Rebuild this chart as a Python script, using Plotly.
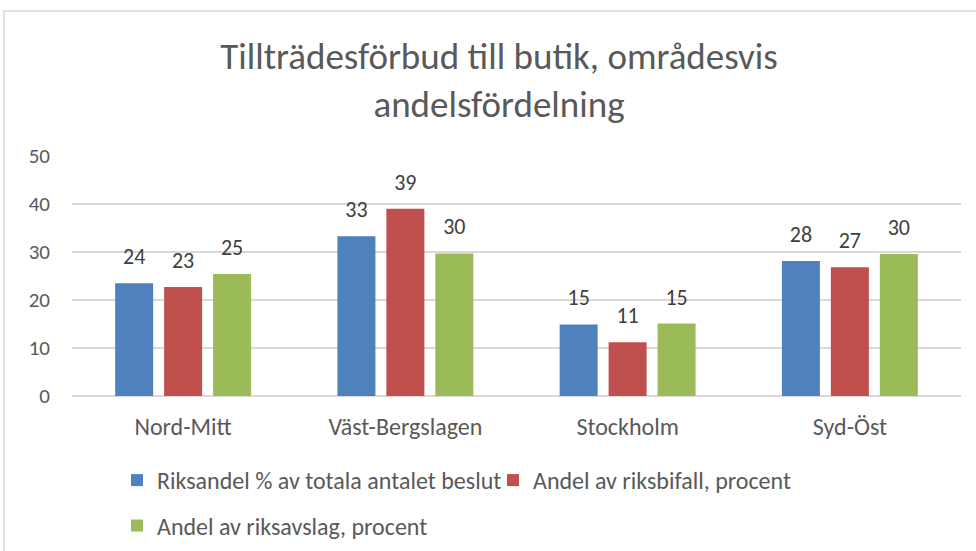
import plotly.graph_objects as go

categories = ["Nord-Mitt", "Väst-Bergslagen", "Stockholm", "Syd-Öst"]
series_names = [
    "Riksandel % av totala antalet beslut",
    "Andel av riksbifall, procent",
    "Andel av riksavslag, procent",
]
riksandel = [23.5, 33.3, 14.9, 28.1]
riksbifall = [22.7, 39.0, 11.2, 26.8]
riksavslag = [25.4, 29.7, 15.1, 29.6]
colors = ["#4F81BD", "#C0504D", "#9BBB59"]
legend_ids = ["legend", "legend", "legend2"]
y_ticks = [0, 10, 20, 30, 40, 50]

FONT = "Calibri, Carlito, Lato, sans-serif"
TXT = "#595959"
BARGAP = 0.339

fig = go.Figure()
for name, vals, col, lg in zip(series_names, [riksandel, riksbifall, riksavslag], colors, legend_ids):
    fig.add_trace(go.Bar(
        x=categories, y=vals, name=name, legend=lg,
        marker=dict(color=col, line=dict(width=0)),
    ))
for name, vals in zip(series_names, [riksandel, riksbifall, riksavslag]):
    fig.add_trace(go.Scatter(
        x=categories, y=vals, name=name, showlegend=False,
        mode="markers+text", marker=dict(size=20, opacity=0),
        texttemplate="%{y:.0f}", textposition="top center",
        textfont=dict(family=FONT, size=22, color="#404040"),
        cliponaxis=False, hoverinfo="skip",
    ))

legend_common = dict(orientation="h", xref="container", yref="container",
                     x=117 / 976, xanchor="left", yanchor="middle",
                     font=dict(size=24, color=TXT), entrywidth=331, entrywidthmode="pixels",
                     bgcolor="rgba(0,0,0,0)")

fig.update_layout(
    width=976, height=551,
    margin=dict(l=72, r=15, t=156, b=155, autoexpand=False),
    paper_bgcolor="white", plot_bgcolor="white",
    barmode="group", bargap=BARGAP, bargroupgap=0.224,
    scattermode="group", scattergap=BARGAP,
    font=dict(family=FONT, color=TXT),
    title=dict(
        text="Tillträdesförbud till butik, områdesvis<br>andelsfördelning",
        x=499 / 976, xanchor="center", y=1 - 69 / 551, yanchor="middle",
        font=dict(family=FONT, size=37, color=TXT),
    ),
    xaxis=dict(showgrid=False, showline=False, ticks="", tickfont=dict(size=24, color=TXT),
               ticklabelstandoff=14),
    yaxis=dict(range=[0, 50], tickvals=y_ticks, showgrid=True, gridcolor="#D9D9D9",
               gridwidth=1.5, zeroline=True, zerolinecolor="#D9D9D9", zerolinewidth=1.5,
               showline=False, ticks="", tickfont=dict(size=21, color=TXT),
               ticklabelstandoff=21),
    legend=dict(legend_common, y=1 - 480.5 / 551),
    legend2=dict(legend_common, y=1 - 526 / 551),
    shapes=[dict(type="rect", xref="paper", yref="paper",
                 x0=(4 - 72) / 889, x1=(990 - 72) / 889,
                 y0=(396 - 570) / 240, y1=(396 - 11) / 240,
                 line=dict(color="#D9D9D9", width=1.5), fillcolor="rgba(0,0,0,0)",
                 layer="below")],
)

fig.write_html("out.html", config={"displayModeBar": False},
               post_script="document.body.style.margin='0';")
